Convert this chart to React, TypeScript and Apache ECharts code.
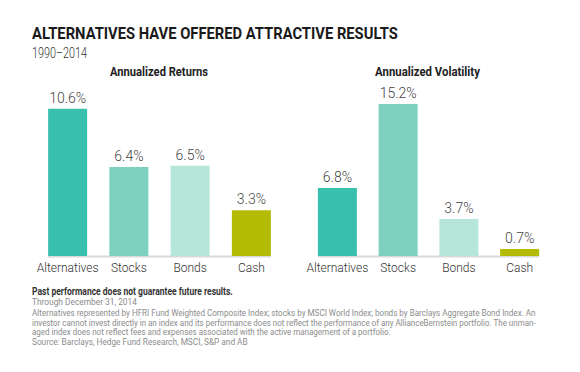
import React, { useEffect, useRef } from "react";
import * as echarts from "echarts";

const categories = ["Alternatives", "Stocks", "Bonds", "Cash"];
const returnsValues = [10.6, 6.4, 6.5, 3.3];
const volatilityValues = [6.8, 15.2, 3.7, 0.7];
const barColors = ["#38bfad", "#7ed0bf", "#b6e5d9", "#b3bb05"];
const chartTitles = ["Annualized Returns", "Annualized Volatility"];
const mainTitle = "ALTERNATIVES HAVE OFFERED ATTRACTIVE RESULTS";
const subTitle = "1990–2014";
const footBold = "Past performance does not guarantee future results.";
const footLines = [
  "Through December 31, 2014",
  "Alternatives represented by HFRI Fund Weighted Composite Index; stocks by MSCI World Index; bonds by Barclays Aggregate Bond Index. An",
  "investor cannot invest directly in an index and its performance does not reflect the performance of any AllianceBernstein portfolio. The unman-",
  "aged index does not reflect fees and expenses associated with the active management of a portfolio.",
  "Source: Barclays, Hedge Fund Research, MSCI, S&P and AB",
];

const FAMILY = 'Roboto, "Liberation Sans", sans-serif';
const BAR_W = 39;

function fit(text: string, font: string, target: number): number {
  const ctx = document.createElement("canvas").getContext("2d");
  if (!ctx) return 1;
  ctx.font = font;
  const w = ctx.measureText(text).width;
  return w > 0 ? target / w : 1;
}

function textEl(text: string, font: string, color: string, x: number, y: number, width: number, align: string = "left") {
  return {
    type: "text",
    x,
    y,
    scaleX: fit(text, font, width),
    silent: true,
    style: { text, font, fill: color, textAlign: align, textVerticalAlign: "middle" },
  };
}

export default function App() {
  const ref = useRef<HTMLDivElement>(null);
  useEffect(() => {
    if (!ref.current) return;
    const chart = echarts.init(ref.current, undefined, { renderer: "svg" });
    const makeSeries = (vals: number[], idx: number) => ({
      type: "bar",
      xAxisIndex: idx,
      yAxisIndex: idx,
      barWidth: BAR_W,
      z: 3,
      data: vals.map((v, i) => ({ value: v, itemStyle: { color: barColors[i] } })),
      label: {
        show: true,
        position: "top",
        distance: 4,
        fontFamily: FAMILY,
        fontWeight: 300,
        fontSize: 14,
        color: "#444",
        formatter: (p: any) => Number(p.value).toFixed(1) + "%",
      },
    });
    const xAxisCfg = (idx: number) => ({
      type: "category",
      gridIndex: idx,
      data: categories,
      axisLine: { show: false },
      axisTick: { show: false },
      axisLabel: { interval: 0, fontFamily: FAMILY, fontWeight: 300, fontSize: 12, color: "#333", margin: 6 },
    });
    const yAxisCfg = (idx: number, max: number) => ({
      type: "value",
      gridIndex: idx,
      min: 0,
      max,
      show: false,
      splitLine: { show: false },
    });
    chart.setOption({
      animation: false,
      grid: [
        { left: 37, width: 245, top: 89.2, bottom: 116 },
        { left: 307, width: 243, top: 96, bottom: 116 },
      ],
      xAxis: [xAxisCfg(0), xAxisCfg(1)],
      yAxis: [yAxisCfg(0, 12), yAxisCfg(1, 16)],
      series: [makeSeries(returnsValues, 0), makeSeries(volatilityValues, 1)],
    });

    const lines: any[] = [0, 1].map((i) => {
      const x0 = chart.convertToPixel({ xAxisIndex: i } as any, categories[0]) as unknown as number;
      const x1 = chart.convertToPixel({ xAxisIndex: i } as any, categories[categories.length - 1]) as unknown as number;
      const y0 = chart.convertToPixel({ yAxisIndex: i } as any, 0) as unknown as number;
      return {
        type: "line",
        z: 1,
        silent: true,
        shape: { x1: x0 - BAR_W / 2, y1: y0 + 0.5, x2: x1 + BAR_W / 2, y2: y0 + 0.5 },
        style: { stroke: "#d9d9d9", lineWidth: 2 },
      };
    });

    const footY = [301.5, 312.5, 322.3, 332, 341.5];
    const footW = [105, 504, 505, 359, 216];
    const texts: any[] = [
      textEl(mainTitle, `bold 16px ${FAMILY}`, "#1a1a1a", 32, 33.5, 366),
      textEl(subTitle, `300 14px ${FAMILY}`, "#333", 32, 53, 55),
      textEl(chartTitles[0], `bold 12.5px ${FAMILY}`, "#222", 159, 72, 98, "center"),
      textEl(chartTitles[1], `bold 12.5px ${FAMILY}`, "#222", 427.5, 72, 105, "center"),
      textEl(footBold, `bold 10px ${FAMILY}`, "#333", 32, 291.5, 201),
      ...footLines.map((t, i) => textEl(t, `9.5px ${FAMILY}`, "#8c8c8c", 32, footY[i], footW[i])),
    ];
    chart.setOption({ graphic: [...lines, ...texts] });
    return () => chart.dispose();
  }, []);
  return <div ref={ref} style={{ position: "fixed", left: 0, top: 0, width: 580, height: 372, background: "#fff" }} />;
}
